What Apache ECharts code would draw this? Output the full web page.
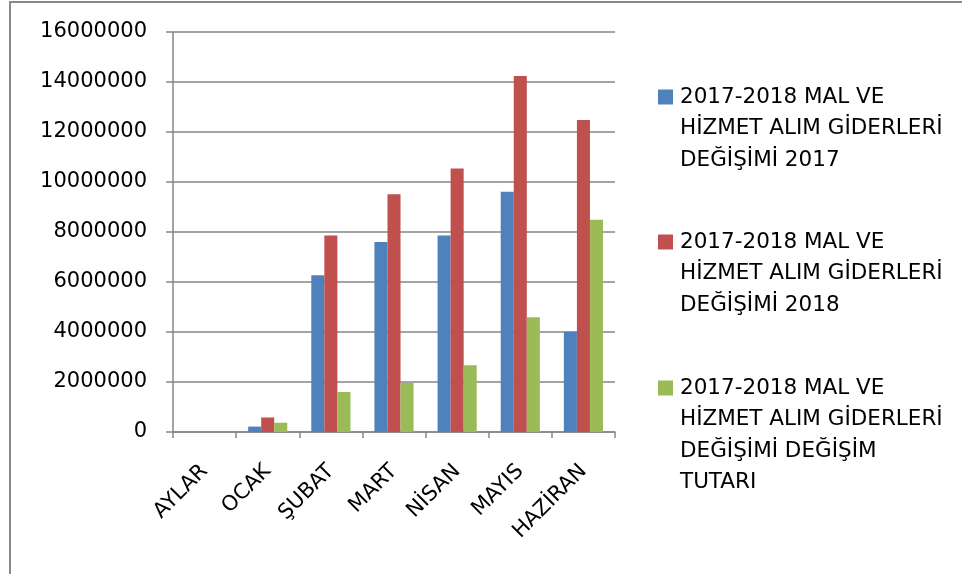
<!DOCTYPE html>
<html>
<head>
<meta charset="utf-8">
<script src="https://cdn.jsdelivr.net/npm/echarts@6/dist/echarts.min.js"></script>
<style>
  body { margin: 0; background: #fff; }
  #chart { position: absolute; left: 0; top: 0; width: 962px; height: 574px; }
  #frame { position: absolute; left: 9px; top: 1px; width: 960px; height: 580px;
           border-left: 2px solid #8a8a8a; border-top: 2px solid #8a8a8a; pointer-events: none; }
</style>
</head>
<body>
<div id="chart"></div>
<div id="frame"></div>
<script>
// aylar (kategoriler)
let months = ['AYLAR', 'OCAK', 'ŞUBAT', 'MART', 'NİSAN', 'MAYIS', 'HAZİRAN']
// seri adları
let seriesNames = [
  '2017-2018 MAL VE HİZMET ALIM GİDERLERİ DEĞİŞİMİ 2017',
  '2017-2018 MAL VE HİZMET ALIM GİDERLERİ DEĞİŞİMİ 2018',
  '2017-2018 MAL VE HİZMET ALIM GİDERLERİ DEĞİŞİMİ DEĞİŞİM TUTARI'
]
// legend satırları
let legendLabels = [
  '2017-2018 MAL VE\nHİZMET ALIM GİDERLERİ\nDEĞİŞİMİ 2017',
  '2017-2018 MAL VE\nHİZMET ALIM GİDERLERİ\nDEĞİŞİMİ 2018',
  '2017-2018 MAL VE\nHİZMET ALIM GİDERLERİ\nDEĞİŞİMİ DEĞİŞİM\nTUTARI'
]
let values2017 = [null, 216000, 6270000, 7600000, 7860000, 9610000, 4010000]
let values2018 = [null, 580000, 7860000, 9510000, 10540000, 14240000, 12480000]
let valuesDiff = [null, 370000, 1600000, 1960000, 2670000, 4590000, 8490000]
let yTicks = [0, 2000000, 4000000, 6000000, 8000000, 10000000, 12000000, 14000000, 16000000]

let colors = ['#4F81BD', '#C0504D', '#9BBB59']
let font = 'DejaVu Sans'
let lineH = 31.5
let legendTops = [97, 242, 388] // ilk satırın ortası

// kare ikon ilk satır hizasında dursun diye yüksek bir path
function iconPath(h) {
  let y0 = lineH / 2 - 7.5
  return 'path://M0,0 M0,' + y0 + ' L15,' + y0 + ' L15,' + (y0 + 15) + ' L0,' + (y0 + 15) + ' Z M17,' + h
}

let legends = seriesNames.map((name, i) => {
  let lines = legendLabels[i].split('\n').length
  let h = lines * lineH
  return {
    data: [name],
    left: 658,
    top: legendTops[i] - lineH / 2,
    padding: 0,
    itemWidth: 17,
    itemHeight: h,
    icon: iconPath(h),
    selectedMode: false,
    formatter: () => legendLabels[i],
    textStyle: {
      fontFamily: font,
      fontSize: 21.5,
      color: '#000',
      lineHeight: lineH
    }
  }
})

let option = {
  animation: false,
  color: colors,
  grid: { left: 173, right: 347, top: 32, bottom: 142 },
  legend: legends,
  xAxis: {
    type: 'category',
    data: months,
    axisLine: { lineStyle: { color: '#868686', width: 1.5 } },
    axisTick: { show: true, length: 6, lineStyle: { color: '#868686', width: 1.5 } },
    axisLabel: {
      rotate: 45,
      margin: 36,
      fontFamily: font,
      fontSize: 21,
      color: '#000'
    }
  },
  yAxis: {
    type: 'value',
    min: yTicks[0],
    max: yTicks[yTicks.length - 1],
    interval: yTicks[1] - yTicks[0],
    axisLine: { show: true, lineStyle: { color: '#868686', width: 1.5 } },
    axisTick: { show: true, inside: false, length: 7, lineStyle: { color: '#868686', width: 1.5 } },
    splitLine: { lineStyle: { color: '#868686', width: 1.5 } },
    axisLabel: {
      margin: 26,
      fontFamily: font,
      fontSize: 21,
      color: '#000',
      formatter: v => String(v)
    }
  },
  series: [
    { name: seriesNames[0], type: 'bar', data: values2017, barGap: '0%', barCategoryGap: '38%' },
    { name: seriesNames[1], type: 'bar', data: values2018, barGap: '0%', barCategoryGap: '38%' },
    { name: seriesNames[2], type: 'bar', data: valuesDiff, barGap: '0%', barCategoryGap: '38%' }
  ]
}

let myChart = echarts.init(document.getElementById('chart'))
myChart.setOption(option)
</script>
</body>
</html>
